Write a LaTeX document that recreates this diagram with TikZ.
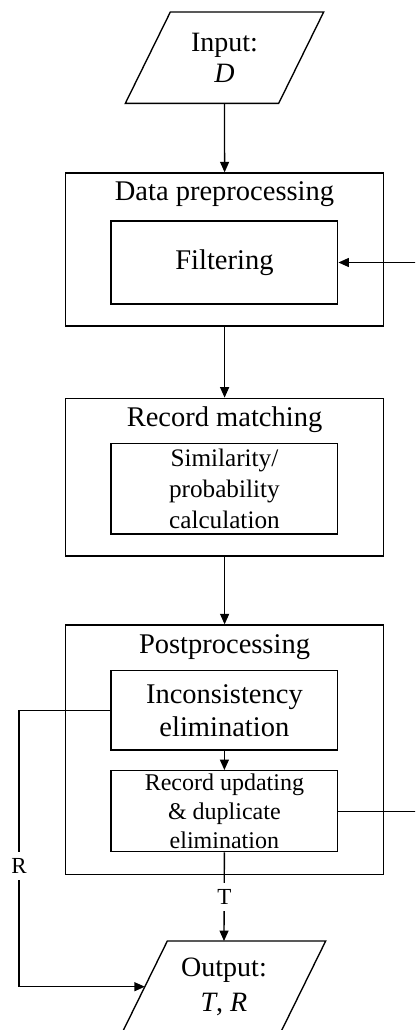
\documentclass[tikz,border=0pt]{standalone}
\usepackage{fontspec}
\setmainfont{Liberation Serif}
\usetikzlibrary{arrows.meta}

\newcommand\titlesize{\fontsize{28.5}{32.8}\selectfont}
\newcommand\calcsize{\fontsize{25.2}{30.8}\selectfont}
\newcommand\updsize{\fontsize{24}{29}\selectfont}

\begin{document}
\begin{tikzpicture}[x=1pt,y=-1pt,
  line width=1.35pt,
  arr/.style={-{Triangle[length=10.5pt,width=9pt]}},
  box/.style={draw, rectangle, inner sep=0pt, align=center},
  outerbox/.style={box, minimum width=317.8},
  innerbox/.style={box, minimum width=226.7},
  title/.style={anchor=base, inner sep=0pt, font=\titlesize},
  io/.style={rectangle, inner sep=0pt, align=center, minimum height=90},
  lab/.style={fill=white, inner sep=0pt, minimum height=28, minimum width=16,
              font=\fontsize{23}{23}\selectfont}]

\useasboundingbox (0,0) rectangle (415,1030);
\clip (0,0) rectangle (415,1030);

% input
\node[io, minimum width=152, font=\fontsize{28}{31}\selectfont] (in) at (224.5,57.7)
  {Input:\\\textit{D}};
\draw ([xshift=22.5pt]in.north west) -- ([xshift=22.5pt]in.north east)
  -- ([xshift=-22.5pt]in.south east) -- ([xshift=-22.5pt]in.south west) -- cycle;

% data preprocessing
\node[outerbox, minimum height=153] (datab) at (224.6,249.5) {};
\node[title] (datat) at (224.5,200.7) {Data preprocessing};
\node[innerbox, minimum height=83, font=\titlesize] (filt) at (224.4,262.5) {Filtering};

% record matching
\node[outerbox, minimum height=157.7] (matchb) at (224.6,477.15) {};
\node[title] (matcht) at (224.5,426.7) {Record matching};
\node[innerbox, minimum height=90.7, font=\calcsize] (sim) at (224.4,488.65)
  {Similarity/\\probability\\calculation};

% postprocessing
\node[outerbox, minimum height=249.3] (postb) at (224.6,749.65) {};
\node[title] (postt) at (224.5,653.3) {Postprocessing};
\node[innerbox, minimum height=79.3, font=\titlesize] (inc) at (224.4,710.35)
  {Inconsistency\\elimination};
\node[innerbox, minimum height=81, font=\updsize] (upd) at (224.4,811.2)
  {Record updating\\\& duplicate\\elimination};

% output
\node[io, minimum width=157, font=\fontsize{28}{35.5}\selectfont] (out) at (224,986.7)
  {Output:\\\textit{T}, \textit{R}};
\draw ([xshift=22.5pt]out.north west) -- ([xshift=22.5pt]out.north east)
  -- ([xshift=-22.5pt]out.south east) -- ([xshift=-22.5pt]out.south west) -- cycle;

% helper coordinates for the side routes
\coordinate (loop) at (440,0);
\coordinate (rside) at (19,0);

% main flow
\draw[arr] (in.south) -- (datab.north);
\draw[arr] (datab.south) -- (matchb.north);
\draw[arr] (matchb.south) -- (postb.north);
\draw[arr] (inc.south) -- (upd.north);
\draw[arr] (upd.south) -- (out.north);

% feedback to filtering
\draw[arr] (upd.east) -- (upd.east -| loop) |- (filt.east);

% rejected records
\draw[arr] (inc.west) -- (inc.west -| rside) |- (out.west);

\node[lab] (rl) at (19,865.7) {R};
\node[lab] (tl) at (224.5,896.5) {T};

\end{tikzpicture}
\end{document}
